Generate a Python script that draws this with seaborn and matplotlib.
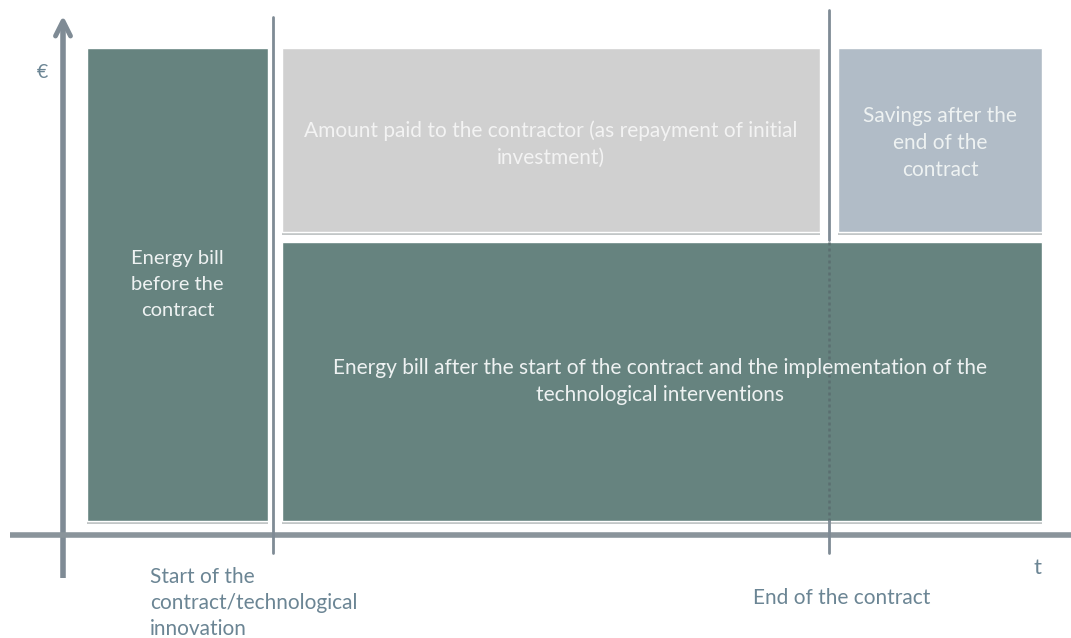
import matplotlib
matplotlib.use("Agg")
import matplotlib.pyplot as plt
import matplotlib.patheffects as pe
import seaborn as sns

# Timeline phases (x, in arbitrary time units measured from the origin)
phase_names = ["before", "contract", "after"]
phase_start = [0.24, 2.19, 7.75]
phase_end = [2.05, 7.57, 9.79]
contract_start = 2.10
contract_end = 7.66

# Cost levels (y, arbitrary € units)
bill_before = 4.73
bill_after = 2.79
repayment = 1.84
savings = 1.84
stack_gap = 0.10

box_labels = {
    "bill_before": "Energy bill\nbefore the\ncontract",
    "repayment": "Amount paid to the contractor (as repayment of initial\ninvestment)",
    "savings": "Savings after the\nend of the\ncontract",
    "bill_after": "Energy bill after the start of the contract and the implementation of the\ntechnological interventions",
}
tick_labels = ["Start of the\ncontract/technological\ninnovation", "End of the contract"]
y_label = "€"
x_label = "t"

sns.set_theme(style="white")
plt.rcParams["font.family"] = ["Lato", "DejaVu Sans"]

TEAL = "#66837f"
GREY = "#d0d0d0"
BLUEGREY = "#b1bcc7"
AXIS = "#7f8b95"
TXT = "#6b8594"
BOXTXT = "#eef2f2"

fig = plt.figure(figsize=(10.71, 6.38), dpi=100)
ax = fig.add_axes([0, 0, 1, 1])
ax.set_xlim(-0.63, 10.08)
ax.set_ylim(-1.17, 5.21)
ax.set_axis_off()

shadow = [pe.SimplePatchShadow(offset=(0, -2.5), shadow_rgbFace="#9aa0a3", alpha=0.6), pe.Normal()]

# Energy bill before the contract
b = ax.bar(phase_start[0], bill_before, width=phase_end[0] - phase_start[0],
           align="edge", color=TEAL, zorder=2)
# Energy bill after the start of the contract (spans contract and after)
b2 = ax.bar(phase_start[1], bill_after, width=phase_end[2] - phase_start[1],
            align="edge", color=TEAL, zorder=2)
# Repayment stacked during the contract
b3 = ax.bar(phase_start[1], repayment, bottom=bill_after + stack_gap,
            width=phase_end[1] - phase_start[1], align="edge", color=GREY, zorder=2)
# Savings after the contract ends
b4 = ax.bar(phase_start[2], savings, bottom=bill_after + stack_gap,
            width=phase_end[2] - phase_start[2], align="edge", color=BLUEGREY, zorder=2)
for cont in (b, b2, b3, b4):
    for p in cont:
        p.set_path_effects(shadow)

# Axes drawn as arrows
ax.plot([0, 0], [-0.57, 4.97], color=AXIS, lw=4, zorder=3, solid_capstyle="butt")
ax.plot([-0.075, 0, 0.075], [4.85, 5.0, 4.85], color=AXIS, lw=3.5,
        solid_capstyle="round", solid_joinstyle="round", zorder=3)
ax.plot([-0.53, 10.08], [-0.14, -0.14], color="#8a949b", lw=4, zorder=3, solid_capstyle="butt")

# Contract boundaries
ax.plot([contract_start, contract_start], [-0.32, 5.04], color=AXIS, lw=2, zorder=3)
ax.plot([contract_end, contract_end], [bill_after + 0.02, 5.11], color=AXIS, lw=2, zorder=3)
ax.plot([contract_end, contract_end], [0, bill_after], color="#5b6e70", lw=1.8,
        ls=(0, (1.2, 1.2)), zorder=3)
ax.plot([contract_end, contract_end], [-0.32, 0.0], color=AXIS, lw=2, zorder=3)

# Box labels
fs = 15
ls = 1.45
ax.text((phase_start[0] + phase_end[0]) / 2, bill_before / 2, box_labels["bill_before"],
        ha="center", va="center", color=BOXTXT, fontsize=14.5, linespacing=1.62, zorder=4)
ax.text((phase_start[1] + phase_end[1]) / 2, bill_after + stack_gap + repayment / 2 - 0.04,
        box_labels["repayment"], ha="center", va="center", color="#f3f3f3", fontsize=fs,
        linespacing=ls, zorder=4)
ax.text((phase_start[2] + phase_end[2]) / 2, bill_after + stack_gap + repayment / 2 - 0.03,
        box_labels["savings"], ha="center", va="center", color=BOXTXT, fontsize=fs,
        linespacing=ls, zorder=4)
ax.text(5.97, 1.395, box_labels["bill_after"], ha="center", va="center", color=BOXTXT,
        fontsize=fs, linespacing=ls, zorder=4)

# Axis labels
ax.text(-0.21, 4.48, y_label, ha="center", va="center", color=TXT, fontsize=14)
ax.text(9.75, -0.47, x_label, ha="center", va="center", color=TXT, fontsize=16)
ax.text(0.87, -0.46, tick_labels[0], ha="left", va="top", color=TXT, fontsize=15,
        linespacing=1.38)
ax.text(7.79, -0.77, tick_labels[1], ha="center", va="center", color=TXT, fontsize=15)

fig.savefig("out.png", dpi=100, facecolor="white")
